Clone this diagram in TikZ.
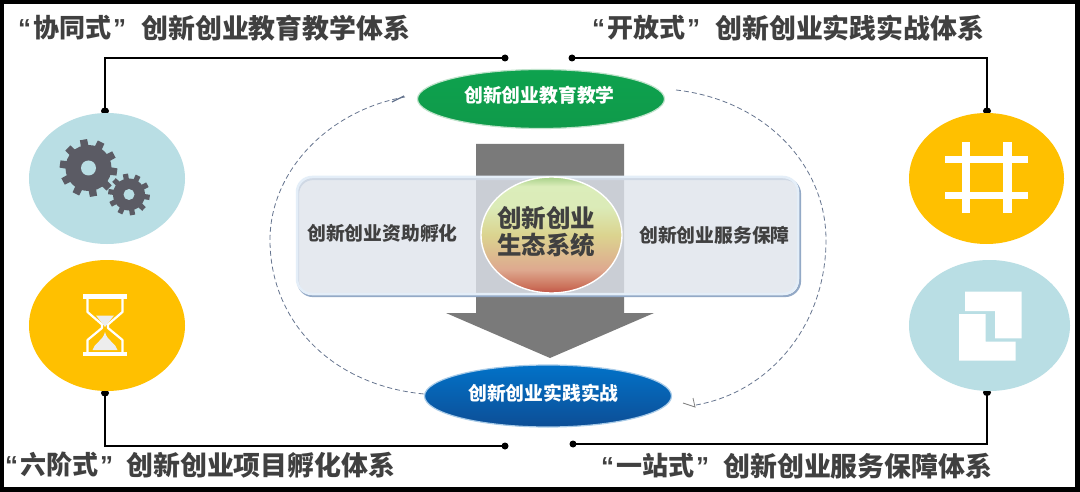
\documentclass[tikz,border=0pt]{standalone}
\usepackage{fontspec}
\setmainfont{Noto Sans CJK SC}
\newfontfamily\qf{Liberation Sans}
\usetikzlibrary{shapes.geometric}
\definecolor{txt}{HTML}{404040}
\definecolor{teal}{HTML}{B9DEE4}
\definecolor{amber}{HTML}{FFC000}
\definecolor{gearc}{HTML}{5B5B64}
\definecolor{shaftc}{HTML}{7A7A7A}
\definecolor{dashc}{HTML}{66758F}
\definecolor{panelc}{HTML}{DFE4EC}
\definecolor{rimlow}{HTML}{93A9C6}
\definecolor{rimtop}{HTML}{E4EEF8}
\definecolor{greenA}{HTML}{0EA24E}
\definecolor{greenB}{HTML}{17AE5A}
\definecolor{greenC}{HTML}{0F9A4A}
\definecolor{greenR}{HTML}{BFE3CB}
\definecolor{blueA}{HTML}{0272C8}
\definecolor{blueB}{HTML}{0A6CBE}
\definecolor{blueC}{HTML}{0D4E96}
\definecolor{blueR}{HTML}{A8CBE8}
\pgfdeclareverticalshading{sysball}{100bp}{
 rgb(0bp)=(0.76,0.33,0.28);
 rgb(25bp)=(0.76,0.33,0.28);
 rgb(28bp)=(0.80,0.45,0.36);
 rgb(35bp)=(0.87,0.66,0.56);
 rgb(50bp)=(0.86,0.83,0.56);
 rgb(62bp)=(0.86,0.92,0.72);
 rgb(71bp)=(0.86,0.93,0.73);
 rgb(75bp)=(0.66,0.82,0.54);
 rgb(100bp)=(0.66,0.82,0.54)}
\tikzset{
 x=1pt,y=-1pt,
 title/.style={inner sep=0pt,anchor=east,text=txt,font=\fontsize{26.9}{30}\selectfont\bfseries},
 qtitle/.style={inner sep=0pt,anchor=west,text=txt,font=\fontsize{26}{30}\selectfont\bfseries},
 blob/.style={ellipse,inner sep=0pt,draw=none},
 lbl/.style={inner sep=0pt,text=txt,font=\fontsize{18.8}{22}\selectfont\bfseries},
 wlbl/.style={inner sep=0pt,text=white,font=\fontsize{18.8}{22}\selectfont\bfseries},
 conn/.style={draw=black,line width=1.8pt},
 dot/.style={fill=black,ellipse,inner sep=0pt,minimum width=8pt,minimum height=7pt},
 dashline/.style={draw=dashc,line width=0.8pt,dash pattern=on 5pt off 3pt},
 iconw/.style={fill=white,draw=none},
}
\newcommand{\mygear}[6]{% cx cy outer root hole teeth
 \foreach \k in {1,...,#6}{
  \pgfmathsetmacro{\ang}{360*\k/#6+8}
  \pgfmathsetmacro{\wa}{100/#6}
  \fill[gearc] ({#1+(#4-1)*cos(\ang-\wa)},{#2+(#4-1)*sin(\ang-\wa)})
     -- ({#1+#3*cos(\ang-\wa*0.72)},{#2+#3*sin(\ang-\wa*0.72)})
     -- ({#1+#3*cos(\ang+\wa*0.72)},{#2+#3*sin(\ang+\wa*0.72)})
     -- ({#1+(#4-1)*cos(\ang+\wa)},{#2+(#4-1)*sin(\ang+\wa)}) -- cycle;
 }
 \fill[gearc] (#1,#2) ellipse [x radius=#4, y radius=#4];
 \fill[teal] (#1,#2) ellipse [x radius=#5, y radius=#5];
}
\newcommand{\qt}[1]{{\qf “}\kern2pt #1\kern2pt{\qf ”}}
\begin{document}
\begin{tikzpicture}
\useasboundingbox (0,0) rectangle (1080,492);
\fill[black] (0,0) rectangle (1080,492);
\fill[white] (3.5,4) rectangle (1075,487);

% dashed ring
\coordinate (la) at (405,97);
\coordinate (lm) at (270,240);
\coordinate (lb) at (424,394);
\coordinate (ra) at (676,90);
\coordinate (rm) at (826,240);
\coordinate (rb) at (696,405);
\draw[dashline] (la) .. controls (330,110) and (270,170) .. (lm) .. controls (270,320) and (330,385) .. (lb);
\draw[dashline] (ra) .. controls (765,100) and (826,165) .. (rm) .. controls (826,325) and (770,392) .. (rb);
\draw[dashc,line width=1.3pt] (392,102) -- (404,96);
\draw[gray,line width=0.8pt] (683,403) -- (695,407) -- (693,398);

% big arrow and panel
\fill[shaftc] (476,144) -- (624,144) -- (624,313) -- (654,313) -- (550,358) -- (446,313) -- (476,313) -- cycle;
\path[draw=rimlow,line width=2.2pt,rounded corners=15pt] (298,179) rectangle (800,296);
\path[draw=rimtop,fill=panelc,fill opacity=0.8,line width=2.5pt,rounded corners=15pt] (297,177) rectangle (798,294);

% central ball
\node[blob,minimum width=141pt,minimum height=116pt,draw=white,line width=1.4pt,shading=sysball] (sys) at (551.5,235) {};
\node[inner sep=0pt,text=txt,align=center,font=\fontsize{24.5}{27}\selectfont\bfseries] at (546,231.5) {创新创业\\生态系统};

\node[lbl] (fund) at (382.5,233) {创新创业资助孵化};
\node[lbl] (serv) at (714.5,235) {创新创业服务保障};

% top / bottom ellipses
\node[blob,minimum width=247pt,minimum height=59pt,draw=greenR,line width=1.2pt,top color=greenA,middle color=greenB,bottom color=greenC] (edu) at (541,99) {};
\node[wlbl] at (539.5,95) {创新创业教育教学};
\node[blob,minimum width=247pt,minimum height=62pt,draw=blueR,line width=1.2pt,top color=blueA,middle color=blueB,bottom color=blueC] (prac) at (548,396) {};
\node[wlbl] at (543.5,393) {创新创业实践实战};

% connector end dots at the blobs
\node[dot] at (105,111) {};
\node[dot] at (987,111) {};
\node[dot] at (105,393) {};
\node[dot] at (987,392.5) {};

% four blobs
\node[blob,fill=teal,minimum width=156pt,minimum height=131pt] (gear) at (107,178.5) {};
\node[blob,fill=amber,minimum width=156pt,minimum height=131pt] (glass) at (107,325.5) {};
\node[blob,fill=amber,minimum width=155pt,minimum height=131pt] (grid) at (986.5,178.5) {};
\node[blob,fill=teal,minimum width=161pt,minimum height=131pt] (square) at (989.5,325.5) {};

% connectors
\coordinate (tl) at (505,58);
\coordinate (tr) at (572,58);
\coordinate (bl) at (505,446);
\coordinate (br) at (573,444);
\node[dot,minimum width=7pt] at (tl) {};
\node[dot,minimum width=7pt] at (tr) {};
\node[dot,minimum width=7pt] at (bl) {};
\node[dot,minimum width=7pt] at (br) {};
\draw[conn] ([xshift=-2pt]gear.north) |- (tl);
\draw[conn] ([xshift=0.5pt]grid.north) |- (tr);
\draw[conn] ([xshift=-2pt]glass.south) |- (bl);
\draw[conn] ([xshift=-2.5pt]square.south) |- (br);

% gears
\mygear{88.5}{168}{29}{23}{7.5}{10}
\mygear{129}{194.5}{21}{16}{5.5}{10}

% hourglass
\fill[white] (83,294) rectangle (127,298.5);
\fill[white] (83,352) rectangle (127,356);
\draw[white,line width=2.2pt,line join=round] (87.5,298) -- (87.5,312) -- (102,324.5) -- (102,328) -- (87.5,340) -- (87.5,352);
\draw[white,line width=2.2pt,line join=round] (122.5,298) -- (122.5,312) -- (108,324.5) -- (108,328) -- (122.5,340) -- (122.5,352);
\fill[black!7] (96,315.5) -- (114,315.5) -- (105,327) -- cycle;
\fill[black!7] (92.5,350) .. controls (94,343) and (103,341) .. (105,332) .. controls (107,341) and (116,343) .. (117.5,350) -- cycle;

% grid icon
\fill[iconw] (961.7,142) rectangle (970,213);
\fill[iconw] (1003.3,142) rectangle (1012,213);
\fill[iconw] (945,156) rectangle (1028,163.3);
\fill[iconw] (945,192) rectangle (1028,199.3);

% square icon
\fill[iconw] (965,291.7) -- (1021.7,291.7) -- (1021.7,338.3) -- (995,338.3) -- (995,311) -- (965,311) -- cycle;
\fill[iconw] (959,314) -- (985.7,314) -- (985.7,341.7) -- (1015.7,341.7) -- (1015.7,360.7) -- (959,360.7) -- cycle;

% titles
\node[qtitle] at (18,28) {\qt{协同式}};
\node[title] at (410.5,28) {创新创业教育教学体系};
\node[qtitle] at (592,28) {\qt{开放式}};
\node[title] at (984.5,28) {创新创业实践实战体系};
\node[qtitle] at (5,465) {\qt{六阶式}};
\node[title] at (395.5,465) {创新创业项目孵化体系};
\node[qtitle] at (601,466) {\qt{一站式}};
\node[title] at (992.5,466) {创新创业服务保障体系};
\end{tikzpicture}
\end{document}
